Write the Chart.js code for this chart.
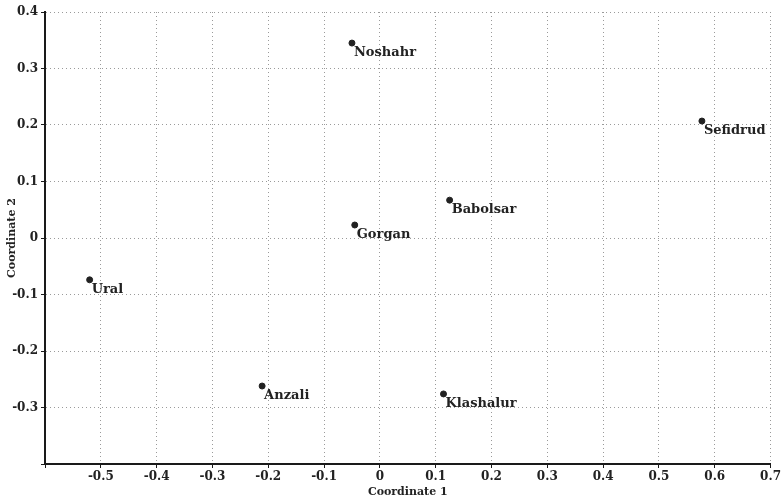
<!DOCTYPE html>
<html>
<head>
<meta charset="utf-8">
<script src="https://cdn.jsdelivr.net/npm/chart.js@4"></script>
<style>
  html, body { margin: 0; padding: 0; background: #fff; }
  #wrap { width: 783px; height: 499px; position: relative; }
</style>
</head>
<body>
<div id="wrap"><canvas id="c"></canvas></div>
<script>
// MDS station map
const stations = ['Noshahr', 'Sefidrud', 'Babolsar', 'Gorgan', 'Ural', 'Anzali', 'Klashalur']
const coord1 = [-0.05, 0.577, 0.125, -0.045, -0.52, -0.211, 0.114]
const coord2 = [0.345, 0.207, 0.067, 0.023, -0.074, -0.262, -0.276]

const serif = "'DejaVu Serif', 'Liberation Serif', serif"
const ink = '#1a1a1a'

// names beside each point, placed from the scales
const pointLabels = {
  id: 'pointLabels',
  afterDatasetsDraw(chart) {
    const { ctx, scales } = chart
    ctx.save()
    ctx.font = 'bold 13px ' + serif
    ctx.fillStyle = '#222'
    ctx.textAlign = 'left'
    ctx.textBaseline = 'top'
    stations.forEach((name, i) => {
      const x = scales.x.getPixelForValue(coord1[i])
      const y = scales.y.getPixelForValue(coord2[i])
      ctx.fillText(name, x + 2, y + 3)
    })
    ctx.restore()
  }
}

const fmt = (v) => {
  const r = Math.round(v * 10) / 10
  return r === 0 ? '0' : r.toFixed(1)
}

new Chart(document.getElementById('c'), {
  type: 'scatter',
  data: {
    datasets: [{
      data: stations.map((s, i) => ({ x: coord1[i], y: coord2[i] })),
      backgroundColor: '#222',
      borderColor: '#222',
      pointRadius: 3,
      pointHoverRadius: 3
    }]
  },
  options: {
    responsive: true,
    maintainAspectRatio: false,
    animation: false,
    layout: { padding: { top: 12, right: 10, left: 0, bottom: 0 } },
    plugins: {
      legend: { display: false },
      tooltip: { enabled: false }
    },
    scales: {
      x: {
        min: -0.6,
        max: 0.7,
        afterFit: (s) => { s.height = 35 },
        border: { color: ink, width: 2, dash: [1, 3] },
        grid: {
          color: '#9a9a9a',
          tickColor: ink,
          tickLength: 4,
          lineWidth: 1
        },
        ticks: {
          stepSize: 0.1,
          color: '#222',
          padding: 2,
          maxRotation: 0,
          autoSkip: false,
          font: { family: serif, size: 12, weight: 'bold' },
          callback: (v) => Math.round(v * 10) === -6 ? '' : fmt(v)
        },
        title: {
          display: true,
          text: 'Coordinate 1',
          color: '#222',
          padding: { top: 0, bottom: 0 },
          font: { family: serif, size: 11, weight: 'bold' }
        }
      },
      y: {
        min: -0.4,
        max: 0.4,
        afterFit: (s) => { s.width = 45 },
        border: { color: ink, width: 2, dash: [1, 3] },
        grid: {
          color: '#9a9a9a',
          tickColor: ink,
          tickLength: 4,
          lineWidth: 1
        },
        ticks: {
          stepSize: 0.1,
          color: '#222',
          padding: 3,
          autoSkip: false,
          font: { family: serif, size: 12, weight: 'bold' },
          callback: (v) => Math.round(v * 10) === -4 ? '' : fmt(v)
        },
        title: {
          display: true,
          text: 'Coordinate 2',
          color: '#222',
          padding: { top: 6, bottom: 0 },
          font: { family: serif, size: 11, weight: 'bold' }
        }
      }
    }
  },
  plugins: [pointLabels]
})
</script>
</body>
</html>
